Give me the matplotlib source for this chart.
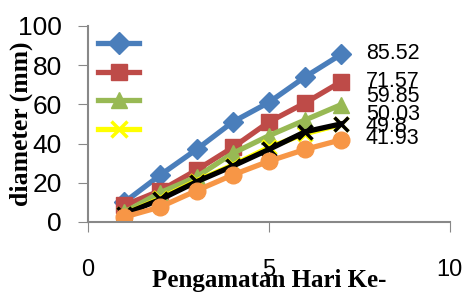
from __future__ import annotations

from matplotlib import pyplot as plt
from matplotlib.lines import Line2D

# observation days
days = [1, 2, 3, 4, 5, 6, 7]

# diameter per treatment (mm)
blue_vals = [10, 24, 37, 51, 61, 74, 85.52]
red_vals = [8.5, 16, 26.5, 38, 51, 60.7, 71.57]
green_vals = [5, 15, 23, 35, 44, 52, 59.85]
yellow_vals = [4, 12, 21, 29, 38, 45, 49.8]
black_vals = [4, 11.5, 20.5, 28.5, 37, 46, 50.03]
orange_vals = [2.5, 7.7, 16, 24, 31, 37, 41.93]

end_labels = ["85.52", "71.57", "59.85", "50.03", "49.8", "41.93"]
# label heights as drawn (labels are nudged apart a little in the source)
label_y = [86, 71.5, 64, 55, 48.5, 42.5]

xticks = [0, 5, 10]
yticks = [0, 20, 40, 60, 80, 100]


def make_plot(fn: str) -> None:
    fig = plt.figure(figsize=(4.71, 2.94), dpi=100)
    ax = fig.add_axes([0.187, 0.245, 0.768, 0.667])

    series = [
        (blue_vals, "#4A7EBB", "D", 10),
        (red_vals, "#BE4B48", "s", 11),
        (green_vals, "#98B954", "^", 11),
        (yellow_vals, "#FFFF00", "x", 10),
        (black_vals, "black", "x", 10),
        (orange_vals, "#F79646", "o", 12),
    ]
    for vals, col, mk, ms in series:
        ax.plot(days, vals, color=col, lw=3.8, marker=mk, ms=ms,
                mew=2.5 if mk == "x" else 1, mec=col, mfc=col)

    for txt, yv in zip(end_labels, label_y):
        ax.text(7.68, yv, txt, fontsize=15.5, family="Liberation Sans",
                va="center", ha="left")

    # legend with no text, only the first four handles show
    handles = [Line2D([], [], color=c, lw=3.8, marker=m, ms=s + 1, mec=c, mfc=c,
                      mew=2.5 if m == "x" else 1)
               for _, c, m, s in series[:4]]
    ax.legend(handles, ["", "", "", ""], loc="upper left", frameon=False,
              bbox_to_anchor=(0.0, 0.995), handlelength=3.0, handletextpad=0,
              labelspacing=1.07, borderaxespad=0.3)

    ax.set_xlim(0, 10)
    ax.set_ylim(0, 100)
    ax.set_xticks(xticks)
    ax.set_yticks(yticks)
    ax.set_xticklabels([str(t) for t in xticks], family="Liberation Sans", fontsize=17)
    ax.set_yticklabels([str(t) for t in yticks], family="Liberation Sans", fontsize=19)
    ax.tick_params(axis="x", direction="out", length=7, color="#888888", pad=20)
    ax.tick_params(axis="y", direction="out", length=7, color="#888888", pad=12)
    for side in ["top", "right"]:
        ax.spines[side].set_visible(False)
    for side in ["left", "bottom"]:
        ax.spines[side].set_color("#888888")
        ax.spines[side].set_linewidth(1.5)

    ax.set_xlabel("Pengamatan Hari Ke-", family="Liberation Serif", weight="bold",
                  fontsize=18)
    ax.set_ylabel("diameter (mm)", family="Liberation Serif", weight="bold",
                  fontsize=18.5)
    ax.xaxis.set_label_coords(0.5, -0.30)
    ax.xaxis.label.set_va("center")
    ax.yaxis.set_label_coords((21 - 88) / 362, 0.5)
    ax.yaxis.label.set_va("center")

    fig.savefig(fn, dpi=100)


def main():
    make_plot("out.png")


if __name__ == "__main__":
    main()
